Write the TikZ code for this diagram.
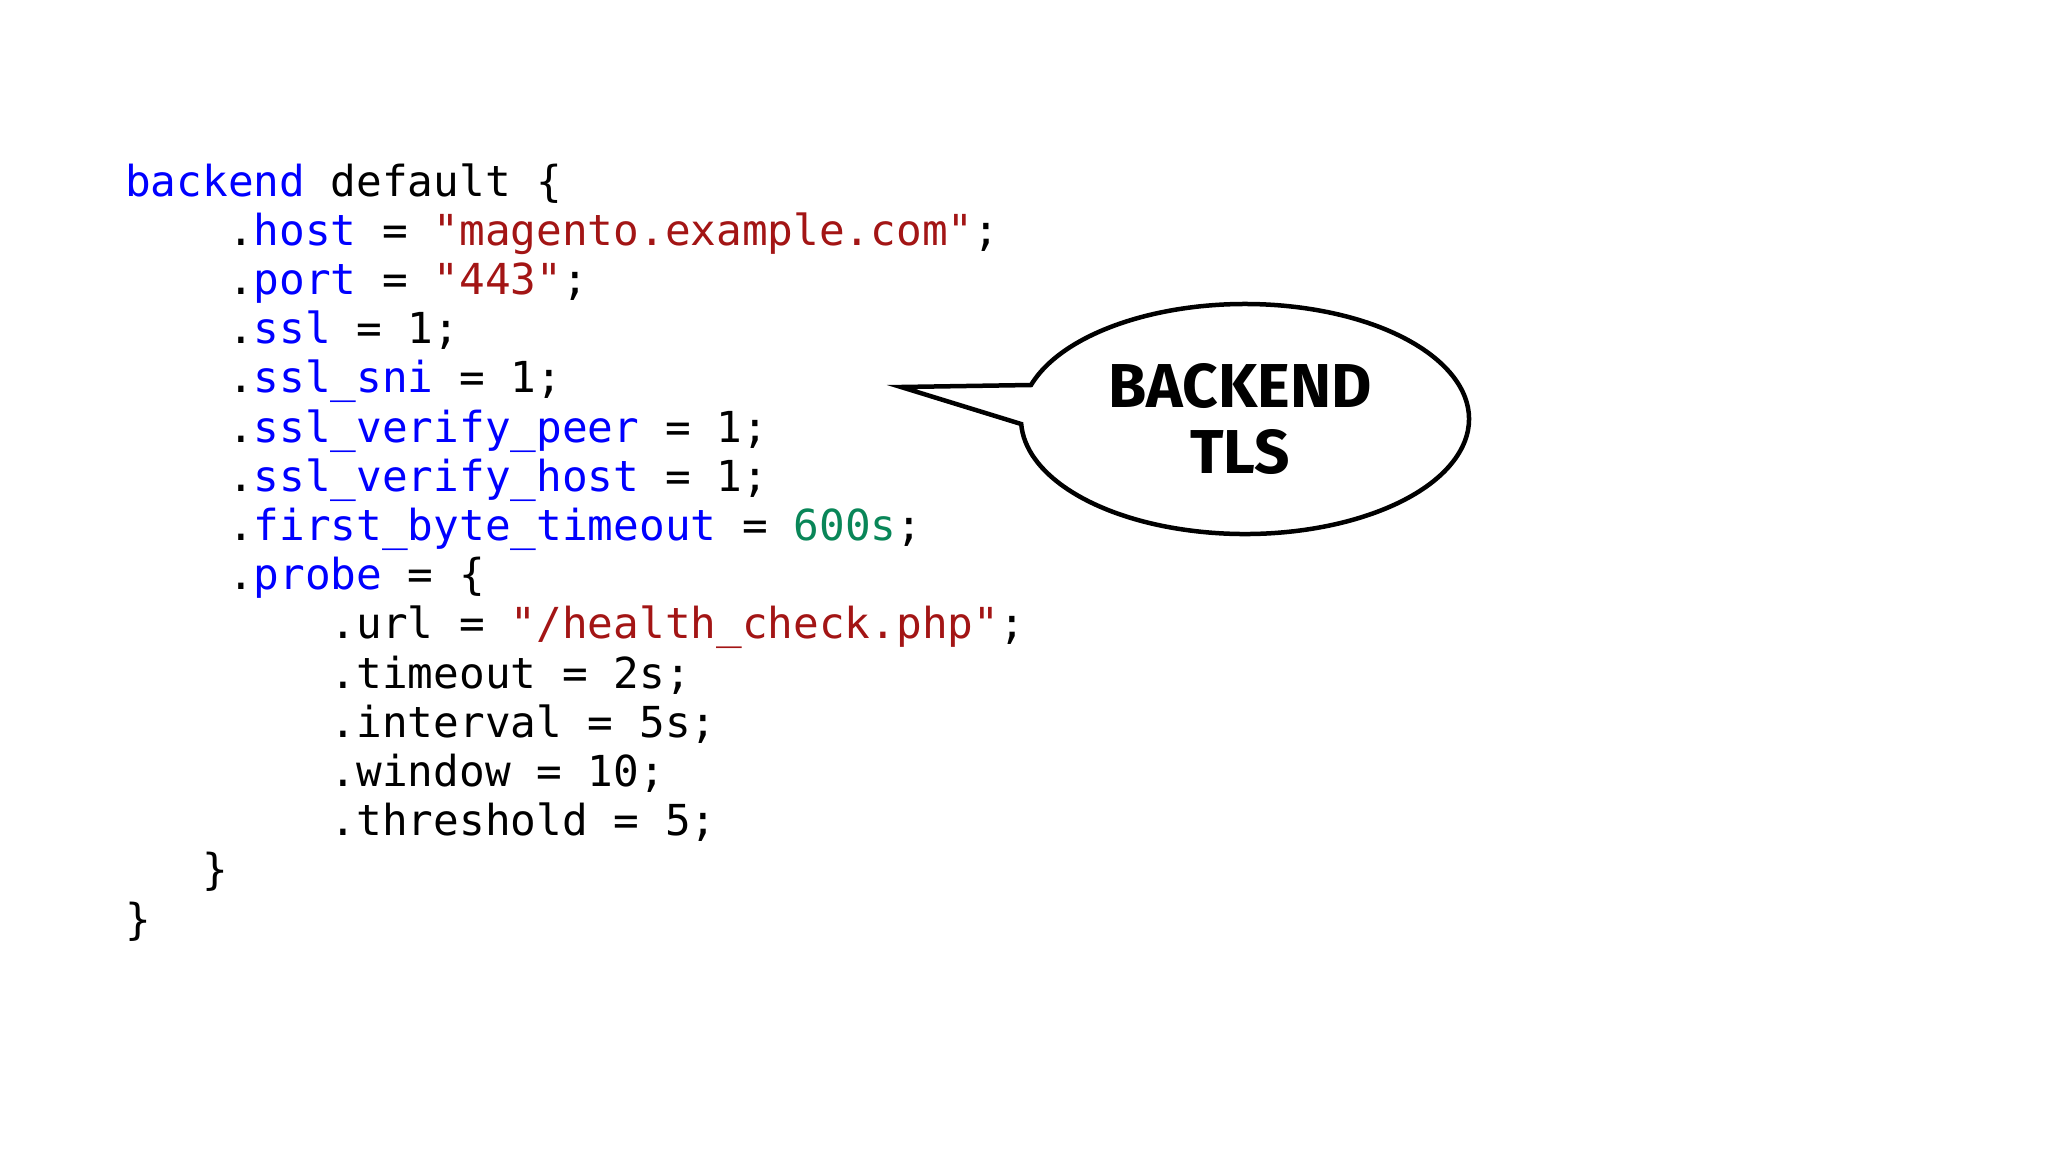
\documentclass[tikz,border=0pt]{standalone}
\usepackage{fontspec}
\newfontfamily\code{DejaVu Sans Mono}
\newfontfamily\bub{Fira Sans Bold}
\definecolor{kw}{HTML}{0000FF}
\definecolor{st}{HTML}{A31515}
\definecolor{nm}{HTML}{098658}
\newcommand{\q}{\symbol{34}}
\begin{document}
\begin{tikzpicture}[x=1pt,y=-1pt,
  ln/.style={anchor=base west,inner sep=0pt,font=\code\fontsize{42.7}{49}\selectfont}]
\useasboundingbox (0,0) rectangle (2048,1152);
\fill[white] (0,0) rectangle (2048,1152);
\def\L{49.2}
\node[ln] (l1) at (125,196) {\textcolor{kw}{backend} default \{};
\node[ln] (l2) at (125,{196+\L}) {\ \ \ \ .\textcolor{kw}{host} = \textcolor{st}{\q magento.example.com\q};};
\node[ln] (l3) at (125,{196+2*\L}) {\ \ \ \ .\textcolor{kw}{port} = \textcolor{st}{\q 443\q};};
\node[ln] (l4) at (125,{196+3*\L}) {\ \ \ \ .\textcolor{kw}{ssl} = 1;};
\node[ln] (l5) at (125,{196+4*\L}) {\ \ \ \ .\textcolor{kw}{ssl\_sni} = 1;};
\node[ln] (l6) at (125,{196+5*\L}) {\ \ \ \ .\textcolor{kw}{ssl\_verify\_peer} = 1;};
\node[ln] (l7) at (125,{196+6*\L}) {\ \ \ \ .\textcolor{kw}{ssl\_verify\_host} = 1;};
\node[ln] (l8) at (125,{196+7*\L}) {\ \ \ \ .\textcolor{kw}{first\_byte\_timeout} = \textcolor{nm}{600s};};
\node[ln] (l9) at (125,{196+8*\L}) {\ \ \ \ .\textcolor{kw}{probe} = \{};
\node[ln] (l10) at (125,{196+9*\L}) {\ \ \ \ \ \ \ \ .url = \textcolor{st}{\q/health\_check.php\q};};
\node[ln] (l11) at (125,{196+10*\L}) {\ \ \ \ \ \ \ \ .timeout = 2s;};
\node[ln] (l12) at (125,{196+11*\L}) {\ \ \ \ \ \ \ \ .interval = 5s;};
\node[ln] (l13) at (125,{196+12*\L}) {\ \ \ \ \ \ \ \ .window = 10;};
\node[ln] (l14) at (125,{196+13*\L}) {\ \ \ \ \ \ \ \ .threshold = 5;};
\node[ln] (l15) at (125,{196+14*\L}) {\ \ \ \}};
\node[ln] (l16) at (125,{196+15*\L}) {\}};
% bubble
\coordinate (tip) at (901,387);
\draw[line width=4.5pt,line join=miter,fill=white]
  ({1245+224*cos(537.5)},{419+115*sin(537.5)}) -- (tip) -- ({1245+224*cos(197.2)},{419+115*sin(197.2)})
  arc[start angle=197.2, end angle=537.5, x radius=224, y radius=115] -- cycle;
\node[font=\bub\fontsize{62}{66}\selectfont,align=center,inner sep=0pt] (bt) at (1240,419) {BACKEND\\TLS};
\end{tikzpicture}
\end{document}
